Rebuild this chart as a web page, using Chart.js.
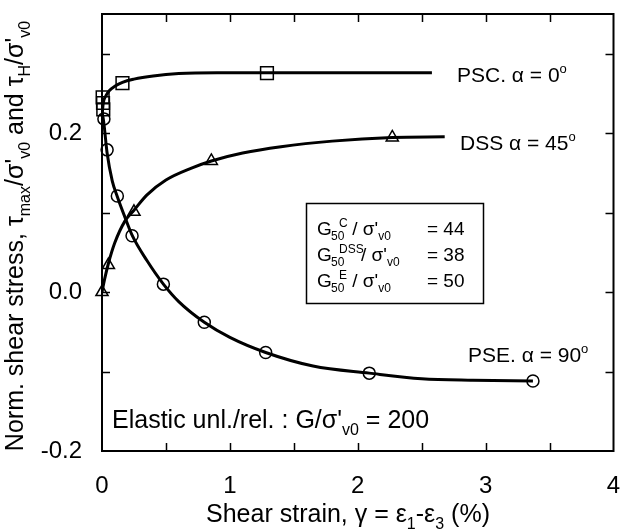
<!DOCTYPE html>
<html>
<head>
<meta charset="utf-8">
<script src="https://cdn.jsdelivr.net/npm/chart.js@4.4.1/dist/chart.umd.min.js"></script>
<style>
  html, body { margin:0; padding:0; background:#fff; }
  #wrap { width:624px; height:531px; }
</style>
</head>
<body>
<div id="wrap"><canvas id="g_stress" width="624" height="531"></canvas></div>
<script>
const FONT = '"Liberation Sans", Arial, sans-serif';

// fitted curves
const pscCurveX = [0, 0.01, 0.03, 0.06, 0.1, 0.16, 0.25, 0.4, 0.6, 0.9, 1.3, 2.0, 2.58];
const pscCurveY = [0.222, 0.238, 0.247, 0.254, 0.259, 0.264, 0.268, 0.272, 0.275, 0.276, 0.276, 0.276, 0.276];
const dssCurveX = [0, 0.02, 0.05, 0.1, 0.178, 0.25, 0.35, 0.5, 0.7, 0.855, 1.1, 1.4, 1.8, 2.27, 2.68];
const dssCurveY = [0, 0.016, 0.036, 0.062, 0.089, 0.103, 0.122, 0.141, 0.156, 0.165, 0.175, 0.183, 0.19, 0.1946, 0.1955];
const pseCurveX = [0, 0.015, 0.04, 0.08, 0.12, 0.18, 0.24, 0.35, 0.48, 0.6, 0.8, 1.0, 1.28, 1.65, 2.09, 2.5, 2.9, 3.37];
const pseCurveY = [0.228, 0.212, 0.175, 0.14, 0.12, 0.094, 0.07, 0.04, 0.01, -0.012, -0.038, -0.057, -0.076, -0.093, -0.102, -0.109, -0.111, -0.112];

// measured points
const pscPtsX = [0.005, 0.008, 0.01, 0.16, 1.29];
const pscPtsY = [0.245, 0.238, 0.230, 0.263, 0.2755];
const dssPtsX = [0, 0.05, 0.25, 0.855, 2.27];
const dssPtsY = [0, 0.034, 0.101, 0.165, 0.1946];
const psePtsX = [0.015, 0.04, 0.12, 0.235, 0.48, 0.80, 1.28, 2.09, 3.37];
const psePtsY = [0.218, 0.179, 0.121, 0.071, 0.010, -0.038, -0.076, -0.102, -0.112];

// axes
const xMinorTicks = [0.5, 1, 1.5, 2, 2.5, 3, 3.5];
const yMinorTicks = [-0.1, 0, 0.1, 0.2, 0.3];
const yLabelValues = [-0.2, 0, 0.2];

const pts = (xs, ys) => xs.map((x, i) => ({ x, y: ys[i] }));

function drawRich(ctx, x, y, parts, size) {
  let cx = x;
  parts.forEach(([t, kind]) => {
    const s = kind === "n" ? size : Math.round(size * 0.64);
    const dy = kind === "sub" ? size * 0.28 : kind === "sup" ? -size * 0.42 : 0;
    ctx.font = `${s}px ${FONT}`;
    ctx.fillText(t, cx, y + dy);
    cx += ctx.measureText(t).width;
  });
  return cx - x;
}
function richWidth(ctx, parts, size) {
  let w = 0;
  parts.forEach(([t, kind]) => {
    const s = kind === "n" ? size : Math.round(size * 0.64);
    ctx.font = `${s}px ${FONT}`;
    w += ctx.measureText(t).width;
  });
  return w;
}

const frameTicks = {
  id: "frameTicks",
  afterDatasetsDraw(chart) {
    const { ctx, chartArea: a, scales } = chart;
    ctx.save();
    ctx.strokeStyle = "#000";
    ctx.lineWidth = 2;
    ctx.strokeRect(a.left, a.top, a.right - a.left, a.bottom - a.top);
    ctx.lineWidth = 1.5;
    ctx.beginPath();
    xMinorTicks.forEach(v => {
      const px = Math.round(scales.x.getPixelForValue(v)) + 0.5;
      ctx.moveTo(px, a.bottom); ctx.lineTo(px, a.bottom - 8);
      ctx.moveTo(px, a.top); ctx.lineTo(px, a.top + 8);
    });
    yMinorTicks.forEach(v => {
      const py = Math.round(scales.y.getPixelForValue(v)) + 0.5;
      ctx.moveTo(a.left, py); ctx.lineTo(a.left + 8, py);
      ctx.moveTo(a.right, py); ctx.lineTo(a.right - 8, py);
    });
    ctx.stroke();
    ctx.restore();
  },
  afterDraw(chart) {
    const { ctx } = chart;
    ctx.save();
    ctx.fillStyle = "#000";
    ctx.textBaseline = "alphabetic";
    ctx.textAlign = "left";

    // series labels
    drawRich(ctx, 457, 82, [["PSC. α = 0", "n"], ["o", "sup"]], 21);
    drawRich(ctx, 460, 150, [["DSS α = 45", "n"], ["o", "sup"]], 21);
    drawRich(ctx, 468, 362, [["PSE. α = 90", "n"], ["o", "sup"]], 21);

    // elastic note
    drawRich(ctx, 112, 428, [["Elastic unl./rel. : G/σ'", "n"], ["v0", "sub"], [" = 200", "n"]], 25);

    // G50 box
    ctx.lineWidth = 1.5;
    ctx.strokeStyle = "#000";
    ctx.strokeRect(306.5, 203.5, 177, 100);
    const rows = [
      { y: 235, sup: "C", val: "= 44" },
      { y: 261, sup: "DSS", val: "= 38" },
      { y: 287, sup: "E", val: "= 50" }
    ];
    rows.forEach(r => {
      ctx.font = `19px ${FONT}`;
      ctx.fillText("G", 317, r.y);
      ctx.font = `12px ${FONT}`;
      ctx.fillText("50", 331, r.y + 5);
      ctx.fillText(r.sup, 339, r.y - 8);
      const sx = r.sup === "DSS" ? 361 : 347;
      drawRich(ctx, sx, r.y, [[r.sup === "DSS" ? "/ σ'" : " / σ'", "n"], ["v0", "sub"]], 19);
      ctx.font = `19px ${FONT}`;
      ctx.fillText(r.val, 427, r.y);
    });

    // x title
    const xt = [["Shear strain, γ = ε", "n"], ["1", "sub"], ["-ε", "n"], ["3", "sub"], [" (%)", "n"]];
    const xw = richWidth(ctx, xt, 25);
    drawRich(ctx, 348 - xw / 2, 522, xt, 25);

    // y title
    const yt = [["Norm. shear stress, τ", "n"], ["max", "sub"], ["/σ'", "n"], ["v0", "sub"],
                [" and τ", "n"], ["H", "sub"], ["/σ'", "n"], ["v0", "sub"]];
    const yw = richWidth(ctx, yt, 25);
    ctx.translate(23, 236);
    ctx.rotate(-Math.PI / 2);
    drawRich(ctx, -yw / 2, 0, yt, 25);
    ctx.restore();
  }
};

const curve = (xs, ys) => ({
  type: "line",
  data: pts(xs, ys),
  borderColor: "#000",
  borderWidth: 3,
  pointRadius: 0,
  fill: false,
  cubicInterpolationMode: "monotone"
});
const marks = (xs, ys, style, r) => ({
  type: "scatter",
  data: pts(xs, ys),
  showLine: false,
  pointStyle: style,
  pointRadius: r,
  pointBorderWidth: 1.5,
  pointBorderColor: "#000",
  pointBackgroundColor: "rgba(0,0,0,0)",
  clip: false
});

const noPad = s => { s.paddingLeft = 0; s.paddingRight = 0; s.paddingTop = 0; s.paddingBottom = 0; };

new Chart(document.getElementById("g_stress"), {
  type: "scatter",
  data: {
    datasets: [
      curve(pscCurveX, pscCurveY),
      curve(dssCurveX, dssCurveY),
      curve(pseCurveX, pseCurveY),
      marks(pscPtsX, pscPtsY, "rect", 9),
      marks(dssPtsX, dssPtsY, "triangle", 7),
      marks(psePtsX, psePtsY, "circle", 6)
    ]
  },
  options: {
    responsive: false,
    animation: false,
    events: [],
    layout: { padding: { left: 0, top: 14, right: 6, bottom: 0 } },
    plugins: { legend: { display: false }, tooltip: { enabled: false } },
    scales: {
      x: {
        type: "linear",
        min: 0, max: 4,
        border: { display: false },
        grid: { display: false, drawTicks: false },
        ticks: {
          stepSize: 0.5,
          padding: 21,
          maxRotation: 0,
          color: "#000",
          font: { family: FONT, size: 24 },
          callback: v => Number.isInteger(v) ? String(v) : ""
        },
        afterFit: s => { s.height = 80; noPad(s); }
      },
      y: {
        type: "linear",
        min: -0.2, max: 0.35,
        border: { display: false },
        grid: { display: false, drawTicks: false },
        ticks: {
          stepSize: 0.1,
          padding: 20,
          color: "#000",
          font: { family: FONT, size: 24 },
          callback: v => {
            const r = Math.round(v * 10) / 10;
            return yLabelValues.includes(r) && Math.abs(v - r) < 1e-6 ? r.toFixed(1) : "";
          }
        },
        afterFit: s => { s.width = 102; noPad(s); }
      }
    }
  },
  plugins: [frameTicks]
});
</script>
</body>
</html>
